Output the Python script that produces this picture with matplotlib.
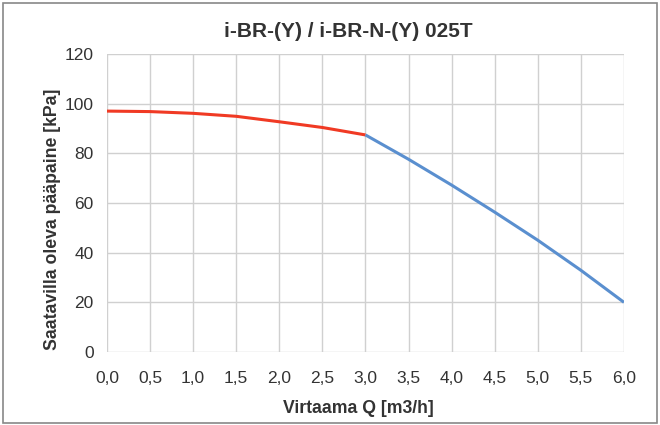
import matplotlib
matplotlib.use("Agg")
import matplotlib.pyplot as plt
from matplotlib.patches import Rectangle
from matplotlib.ticker import FuncFormatter

plt.rcParams['font.family'] = ['Liberation Sans', 'DejaVu Sans']

q_red = [0.0, 0.5, 1.0, 1.5, 2.0, 2.5, 3.0]
p_red = [97.0, 96.8, 96.1, 94.9, 92.7, 90.4, 87.4]
q_blue = [3.0, 3.5, 4.0, 4.5, 5.0, 5.5, 6.0]
p_blue = [87.4, 77.6, 67.2, 56.3, 45.0, 32.9, 20.0]

title = "i-BR-(Y) / i-BR-N-(Y) 025T"
xlabel = "Virtaama Q [m3/h]"
ylabel = "Saatavilla oleva pääpaine [kPa]"

fig = plt.figure(figsize=(6.6, 4.25), dpi=100)
ax = fig.add_axes([0.1621, 0.1718, 0.7833, 0.7012])

ax.plot(q_red, p_red, color='#f03a24', lw=2.2, solid_capstyle='butt', zorder=3)
ax.plot(q_blue, p_blue, color='#5a8fcf', lw=2.2, solid_capstyle='butt', zorder=3)

ax.set_xlim(0, 6)
ax.set_ylim(0, 120)
ax.set_xticks([i * 0.5 for i in range(13)])
ax.set_yticks(range(0, 121, 20))
ax.xaxis.set_major_formatter(FuncFormatter(lambda v, p: f"{v:.1f}".replace('.', ',')))
ax.grid(True, color='#d0d0d0', lw=1.0)
ax.set_axisbelow(True)
for s in ax.spines.values():
    s.set_visible(False)
ax.tick_params(length=0, labelsize=12.5, colors='#333333')
ax.tick_params(axis='x', pad=14)
ax.tick_params(axis='y', pad=9.7)

# title / axis labels placed where the reference has them
fig.text(0.527, 0.912, title, fontsize=15, fontweight='bold', color='#333333',
         ha='center', va='baseline')
fig.text(0.5425, 0.029, xlabel, fontsize=12.7, fontweight='bold', color='#333333',
         ha='center', va='baseline')
fig.text(0.0795, 0.4847, ylabel, fontsize=12.7, fontweight='bold', color='#333333',
         ha='center', va='center', rotation=90)

fig.patches.append(Rectangle((0.004, 0.004), 0.992, 0.988, transform=fig.transFigure,
                             fill=False, edgecolor='#888888', lw=1.2))

fig.savefig("out.png", dpi=100)
